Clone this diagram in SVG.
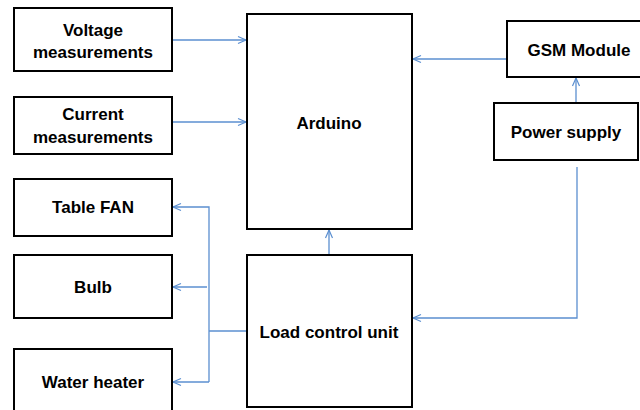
<svg xmlns="http://www.w3.org/2000/svg" width="640" height="410" viewBox="0 0 640 410">
<style>
.box{fill:#fff;stroke:#000;stroke-width:2}
.t{font-family:"Liberation Sans",Arial,sans-serif;font-weight:bold;font-size:17px;fill:#000;text-anchor:middle}
.c{fill:none;stroke:#5b8fd0;stroke-width:1.3}
</style>
<defs>
<marker id="a" markerUnits="userSpaceOnUse" markerWidth="12" markerHeight="10" viewBox="-10 -5 12 10" refX="0" refY="0" orient="auto" overflow="visible">
<path d="M-8,-3.5 L0,0 L-8,3.5" fill="none" stroke="#5b8fd0" stroke-width="1.2"/>
</marker>
</defs>
<g id="connectors">
<path class="c" d="M172,40 H246" marker-end="url(#a)"/>
<path class="c" d="M172,122 H246" marker-end="url(#a)"/>
<path class="c" d="M507,59 H413" marker-end="url(#a)"/>
<path class="c" d="M576,103 V78" marker-end="url(#a)"/>
<path class="c" d="M577,167 V318 H413" marker-end="url(#a)"/>
<path class="c" d="M329,255 V230" marker-end="url(#a)"/>
<path class="c" d="M247,331 H209"/>
<path class="c" d="M209,382 V207 H173" marker-end="url(#a)"/>
<path class="c" d="M207,287 H173" marker-end="url(#a)"/>
<path class="c" d="M209,382 H173" marker-end="url(#a)"/>
</g>
<g id="voltage"><rect class="box" x="14" y="8" width="158" height="63"/><text class="t" x="93" y="36">Voltage</text><text class="t" x="93" y="58">measurements</text></g>
<g id="current"><rect class="box" x="14" y="97" width="158" height="57"/><text class="t" x="93" y="120">Current</text><text class="t" x="93" y="143">measurements</text></g>
<g id="arduino"><rect class="box" x="247" y="14" width="165" height="215"/><text class="t" x="329" y="129">Arduino</text></g>
<g id="gsm"><rect class="box" x="507" y="21" width="145" height="56"/><text class="t" x="579" y="56">GSM Module</text></g>
<g id="power"><rect class="box" x="494" y="103" width="144" height="57"/><text class="t" x="566" y="138">Power supply</text></g>
<g id="fan"><rect class="box" x="14" y="179" width="158" height="57"/><text class="t" x="93" y="213">Table FAN</text></g>
<g id="bulb"><rect class="box" x="14" y="255" width="158" height="63"/><text class="t" x="93" y="293">Bulb</text></g>
<g id="heater"><rect class="box" x="14" y="349" width="158" height="70"/><text class="t" x="93" y="388">Water heater</text></g>
<g id="load"><rect class="box" x="247" y="255" width="165" height="152"/><text class="t" x="329" y="338">Load control unit</text></g>
</svg>
